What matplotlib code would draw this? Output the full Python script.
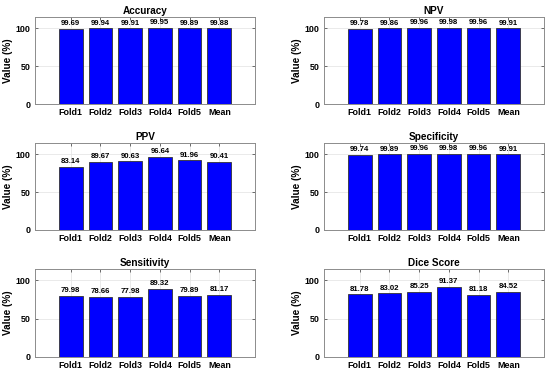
import matplotlib.pyplot as plt
import numpy as np

plt.rcParams['font.family'] = ['Liberation Sans', 'DejaVu Sans']

# data
folds = ['Fold1', 'Fold2', 'Fold3', 'Fold4', 'Fold5', 'Mean']
titles = ['Accuracy', 'NPV', 'PPV', 'Specificity', 'Sensitivity', 'Dice Score']
accuracy    = [99.69, 99.94, 99.91, 99.95, 99.89, 99.88]
npv         = [99.78, 99.86, 99.96, 99.98, 99.96, 99.91]
ppv         = [83.14, 89.67, 90.63, 96.64, 91.96, 90.41]
specificity = [99.74, 99.89, 99.96, 99.98, 99.96, 99.91]
sensitivity = [79.98, 78.66, 77.98, 89.32, 79.89, 81.17]
dice        = [81.78, 83.02, 85.25, 91.37, 81.18, 84.52]
series = [accuracy, npv, ppv, specificity, sensitivity, dice]

W, H = 550, 375
fig = plt.figure(figsize=(5.5, 3.75), dpi=100)

# axes boxes in pixels: (left, right) and (top, bottom)
cols = [(35, 255), (324, 544)]
rows = [(17, 104), (143, 230), (269, 357)]

x = np.arange(1, 7)
for i, (title, vals) in enumerate(zip(titles, series)):
    r, c = divmod(i, 2)
    l, rgt = cols[c]
    t, b = rows[r]
    ax = fig.add_axes([l / W, 1 - b / H, (rgt - l) / W, (b - t) / H])
    ax.set_axisbelow(True)
    ax.bar(x, vals, width=0.8, color='#0000ff', edgecolor='#333333',
           linewidth=0.6, zorder=3)
    for xi, v in zip(x, vals):
        ax.text(xi, v + 2.5, f'{v:.2f}', ha='center', va='bottom',
                fontsize=5.6, fontweight='bold', zorder=4)
    ax.set_xlim(-0.2, 7.2)
    ax.set_ylim(0, 115)
    ax.set_yticks([0, 50, 100])
    ax.set_xticks(x)
    ax.set_xticklabels(folds)
    ax.set_title(title, fontsize=7.2, fontweight='bold', pad=2.5)
    ax.set_ylabel('Value (%)', fontsize=7.2, fontweight='bold', labelpad=2)
    ax.grid(True, color='#e6e6e6', linewidth=0.6)
    ax.tick_params(labelsize=6.4, direction='in', length=2.5, width=0.6,
                   color='#555555', top=True, right=True, pad=3)
    for lab in ax.get_xticklabels() + ax.get_yticklabels():
        lab.set_fontweight('bold')
    for sp in ax.spines.values():
        sp.set_color('#8c8c8c')
        sp.set_linewidth(0.7)

fig.savefig('out.png', dpi=100)
